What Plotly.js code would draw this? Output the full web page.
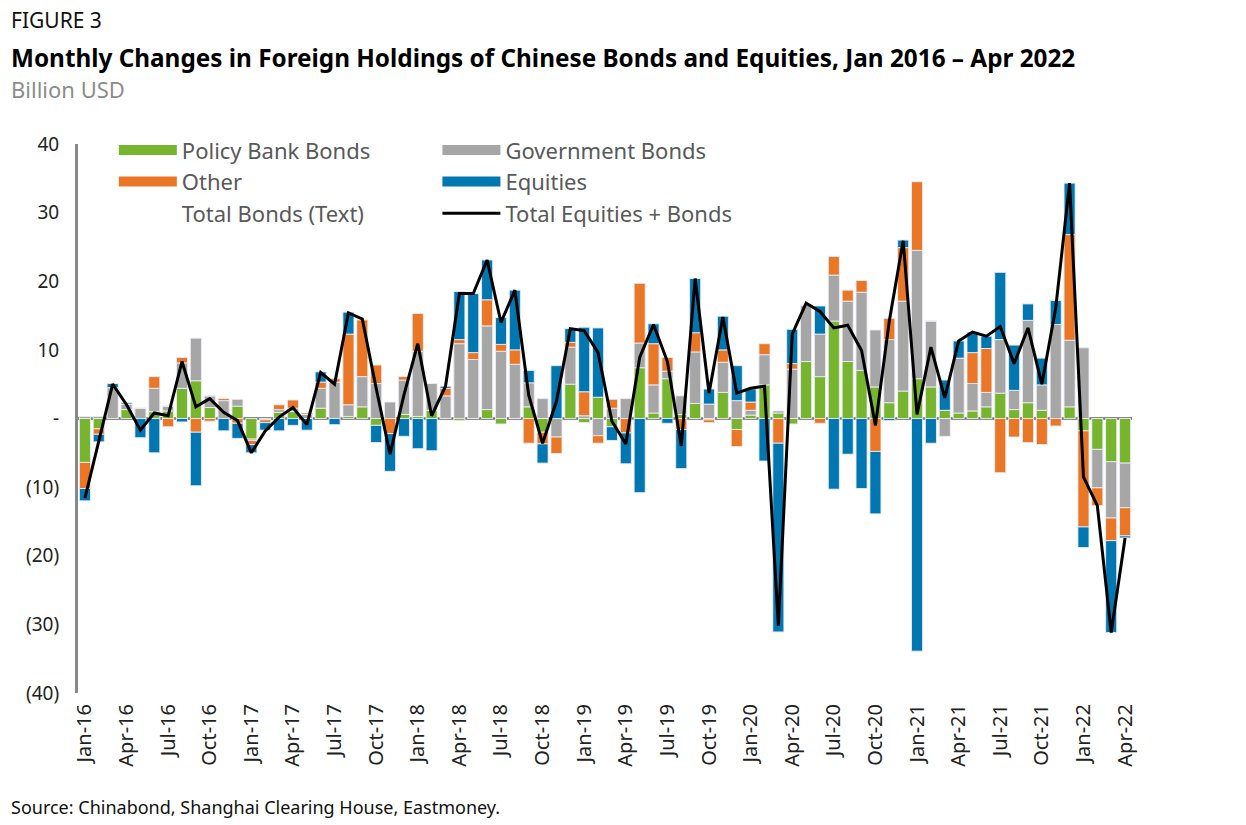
<!DOCTYPE html>
<html>
<head>
<meta charset="utf-8">
<script src="https://cdn.plot.ly/plotly-3.0.1.min.js"></script>
<style>
  html, body { margin: 0; padding: 0; background: #fff; }
  #chart { width: 1246px; height: 825px; }
</style>
</head>
<body>
<div id="chart"></div>
<script>
// monthly data, Jan 2016 - Apr 2022, billion USD
var months = [
  'Jan-16','Feb-16','Mar-16','Apr-16','May-16','Jun-16','Jul-16','Aug-16','Sep-16','Oct-16','Nov-16','Dec-16',
  'Jan-17','Feb-17','Mar-17','Apr-17','May-17','Jun-17','Jul-17','Aug-17','Sep-17','Oct-17','Nov-17','Dec-17',
  'Jan-18','Feb-18','Mar-18','Apr-18','May-18','Jun-18','Jul-18','Aug-18','Sep-18','Oct-18','Nov-18','Dec-18',
  'Jan-19','Feb-19','Mar-19','Apr-19','May-19','Jun-19','Jul-19','Aug-19','Sep-19','Oct-19','Nov-19','Dec-19',
  'Jan-20','Feb-20','Mar-20','Apr-20','May-20','Jun-20','Jul-20','Aug-20','Sep-20','Oct-20','Nov-20','Dec-20',
  'Jan-21','Feb-21','Mar-21','Apr-21','May-21','Jun-21','Jul-21','Aug-21','Sep-21','Oct-21','Nov-21','Dec-21',
  'Jan-22','Feb-22','Mar-22','Apr-22'
];

var policyBank = [
  -6.4, -1.5, 0, 1.3, 0, 1.0, 1.1, 4.4, 5.5, 1.6, 0, 1.8,
  -3.0, 0, 0.9, 1.0, 0, 1.5, 0, 0.3, 1.7, -1.0, 0, 0.6,
  0.3, 1.2, 0, -0.3, 0, 1.3, -0.8, 0, 1.7, -2.0, 0, 5.0,
  -0.6, 3.1, -1.2, 0, 7.4, 0.8, 5.8, 0.6, 2.2, -0.2, 3.8, -1.6,
  0.5, 4.9, 0.8, -0.8, 8.3, 6.1, 14.2, 8.3, 7.0, 4.6, 2.3, 4.0,
  5.8, 4.6, 1.2, 0.8, 1.1, 1.7, 3.7, 1.3, 2.3, 1.2, 0, 1.7,
  -1.8, -4.5, -6.3, -6.5
];
var government = [
  0.3, 0.3, 4.5, 0.8, 1.5, 3.4, 0.7, 3.7, 6.2, 1.7, 2.6, 1.0,
  -0.2, -0.2, 0.4, 0.5, 0.6, 2.9, 5.3, 1.7, 4.4, 5.1, 2.4, 5.0,
  9.5, 3.9, 3.3, 10.9, 8.6, 12.2, 9.8, 7.9, 3.5, 2.9, -2.7, 5.4,
  0.4, -2.5, 1.5, 2.9, 3.6, 4.1, 1.1, 2.7, 7.5, 2.1, 4.4, 2.6,
  0.7, 4.4, 0.3, 7.2, 8.2, 6.2, 6.7, 8.8, 11.4, 8.3, 9.2, 13.1,
  18.7, 9.6, -2.6, 8.0, 4.0, 2.1, 7.8, 2.8, 12.0, 3.7, 13.7, 9.7,
  10.3, -5.6, -8.2, -6.5
];
var other = [
  -3.8, -0.8, 0, 0, 0, 1.7, -1.2, 0.8, -2.0, -0.4, 0.3, -0.7,
  -0.6, -0.4, 0.7, 1.2, 0.2, 0.9, 0.5, 10.3, 8.3, 2.7, -2.2, 0.5,
  5.5, 0, 1.1, 0.6, 1.0, 3.8, 1.0, 2.1, -3.6, -1.7, -2.4, 0.7,
  3.5, -1.1, 1.3, -2.1, 8.7, 6.0, 2.0, -1.6, 2.8, -0.4, 1.8, -2.5,
  1.2, 1.6, -3.6, 0.8, 0, -0.7, 2.7, 1.6, 1.7, -4.8, 3.1, 7.8,
  10.0, 0, 0, 0, 4.5, 6.4, -7.9, -2.7, -3.5, -3.8, -1.1, 15.4,
  -14.0, -2.6, -3.3, -4.1
];
var equities = [
  -1.8, -1.1, 0.6, 0.2, -2.8, -5.0, 0, -0.5, -7.8, 0, -1.8, -2.2,
  -1.2, -1.1, -1.8, -1.0, -1.7, 1.5, -0.9, 3.2, 0, -2.5, -5.5, -2.6,
  -4.4, -4.7, 0.3, 7.0, 8.6, 5.8, 3.9, 8.7, 1.8, -2.8, 7.7, 2.0,
  9.4, 10.1, -2.0, -4.5, -10.8, 2.9, -0.7, -5.7, 7.9, 2.2, 4.9, 5.1,
  1.9, -6.2, -27.5, 5.0, 0, 4.1, -10.3, -5.2, -10.2, -9.1, -0.3, 1.1,
  -33.9, -3.6, 4.4, 2.5, 3.0, 1.8, 9.8, 6.6, 2.4, 3.9, 3.5, 7.5,
  -3.0, 0, -13.4, -0.3
];
var totalAll = [
  -11.6, -3.2, 5.0, 2.0, -1.7, 0.8, 0.4, 8.3, 1.7, 2.9, 0.9, -0.3,
  -5.0, -1.8, 0.2, 1.6, -0.9, 6.7, 5.0, 15.4, 14.5, 4.4, -5.2, 3.4,
  10.9, 0.4, 4.7, 18.2, 18.2, 23.1, 14.0, 18.7, 3.4, -3.6, 2.5, 13.1,
  12.8, 9.6, -0.4, -3.7, 8.9, 13.7, 8.3, -4.0, 20.4, 3.7, 14.8, 3.7,
  4.4, 4.7, -30.2, 12.3, 16.8, 15.6, 13.2, 13.6, 9.9, -1.0, 14.2, 25.9,
  0.6, 10.4, 3.0, 11.3, 12.6, 12.0, 13.4, 8.0, 13.2, 5.0, 16.1, 34.3,
  -8.5, -12.7, -31.2, -17.4
];

var yTickVals = [-40, -30, -20, -10, 0, 10, 20, 30, 40];
var yTickText = ['(40)', '(30)', '(20)', '(10)', '-', '10', '20', '30', '40'];

var idx = months.map(function (m, i) { return i; });
var qTicks = idx.filter(function (i) { return i % 3 === 0; });
var qLabels = qTicks.map(function (i) { return months[i]; });

var FONT = 'Noto Sans, Open Sans, sans-serif';
var cGreen = '#77b52f';
var cGray = '#a6a6a6';
var cOrange = '#e97726';
var cBlue = '#0077b0';
var barEdge = {color: 'rgba(235,235,245,0.9)', width: 1};

function barTrace(name, vals, color) {
  return {
    type: 'bar', x: idx, y: vals, name: name,
    legendgroup: name, showlegend: false,
    marker: {color: color, line: barEdge}
  };
}
// legend-only swatches (wide bars like the original)
function swatch(name, color, legend) {
  return {
    type: 'scatter', mode: 'lines', x: [null], y: [null], name: name,
    legendgroup: name, legend: legend,
    line: {color: color, width: 14}, hoverinfo: 'skip'
  };
}

var data = [
  barTrace('Policy Bank Bonds', policyBank, cGreen),
  barTrace('Government Bonds', government, cGray),
  barTrace('Other', other, cOrange),
  barTrace('Equities', equities, cBlue),
  swatch('Policy Bank Bonds', cGreen, 'legend'),
  swatch('Other', cOrange, 'legend'),
  swatch('Total Bonds (Text)', 'rgba(0,0,0,0)', 'legend'),
  swatch('Government Bonds', cGray, 'legend2'),
  swatch('Equities', cBlue, 'legend2'),
  {
    type: 'scatter', mode: 'lines', x: idx, y: totalAll,
    name: 'Total Equities + Bonds', legend: 'legend2',
    line: {color: '#000', width: 3}
  }
];

var legendBase = {
  orientation: 'v', xanchor: 'left', yanchor: 'top', y: 1.027,
  bgcolor: 'rgba(0,0,0,0)', itemwidth: 58, tracegroupgap: 0,
  font: {family: FONT, size: 22, color: '#595959'}
};

var layout = {
  width: 1246, height: 825,
  margin: {l: 78, r: 114, t: 144, b: 132},
  paper_bgcolor: '#fff', plot_bgcolor: '#fff',
  barmode: 'relative', bargap: 0.2,
  font: {family: FONT, color: '#222'},
  showlegend: true,
  legend: Object.assign({x: 0.034}, legendBase),
  legend2: Object.assign({x: 0.341}, legendBase),
  xaxis: {
    range: [-0.5, 75.5], tickvals: qTicks, ticktext: qLabels,
    tickangle: -90, ticks: '', showgrid: false, zeroline: false, showline: false,
    ticklabelstandoff: 6,
    tickfont: {family: FONT, size: 20, color: '#222'}
  },
  yaxis: {
    range: [-40, 40], tickvals: yTickVals, ticktext: yTickText,
    ticks: '', showgrid: false, showline: true, linecolor: '#888', linewidth: 3,
    zeroline: true, zerolinecolor: '#888', zerolinewidth: 3,
    ticklabelstandoff: 12,
    tickfont: {family: FONT, size: 19, color: '#222'}
  },
  annotations: [
    {xref: 'paper', yref: 'paper', x: -0.065, y: 1.226, xanchor: 'left', yanchor: 'middle',
     showarrow: false, text: 'FIGURE 3', font: {family: FONT, size: 21, color: '#111'}},
    {xref: 'paper', yref: 'paper', x: -0.065, y: 1.158, xanchor: 'left', yanchor: 'middle',
     showarrow: false, text: 'Monthly Changes in Foreign Holdings of Chinese Bonds and Equities, Jan 2016 \u2013 Apr 2022',
     font: {family: FONT, size: 24.3, color: '#000', weight: 700}},
     {xref: 'paper', yref: 'paper', x: -0.065, y: 1.1, xanchor: 'left', yanchor: 'middle',
     showarrow: false, text: 'Billion USD', font: {family: FONT, size: 22, color: '#8c8c8c'}},
    {xref: 'paper', yref: 'paper', x: -0.065, y: -0.2077, xanchor: 'left', yanchor: 'middle',
     showarrow: false, text: 'Source: Chinabond, Shanghai Clearing House, Eastmoney.',
     font: {family: FONT, size: 18, color: '#111'}}
  ]
};

Plotly.newPlot('chart', data, layout, {displayModeBar: false, responsive: false});
</script>
</body>
</html>
